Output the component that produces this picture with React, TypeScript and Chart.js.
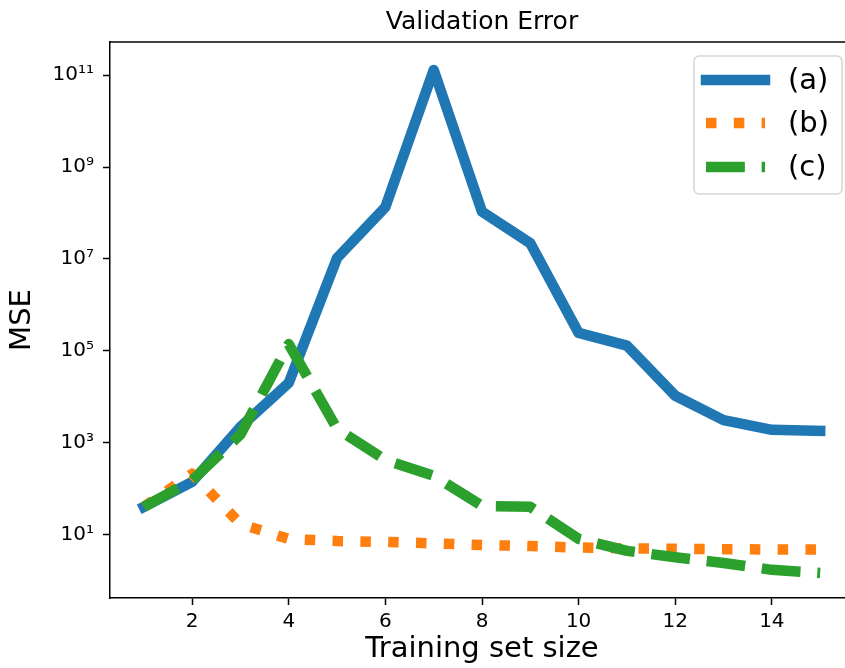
import React, { useEffect, useRef } from "react";
import { Chart, registerables } from "chart.js";

Chart.register(...registerables);

// ---- data ----
const trainingSizes = [1, 2, 3, 4, 5, 6, 7, 8, 9, 10, 11, 12, 13, 14, 15];
const errA = [40, 140, 2200, 20000, 1.05e7, 1.35e8, 1.3e11, 1.07e8, 2.2e7, 2.45e5, 1.3e5, 1.05e4, 3100, 1900, 1800];
const errB = [40, 210, 17, 8.0, 7.2, 6.9, 6.4, 5.9, 5.6, 5.2, 5.0, 4.9, 4.8, 4.7, 4.7];
const errC = [40, 150, 1500, 1.4e5, 2000, 420, 190, 42, 40, 8, 4.4, 3.2, 2.4, 1.7, 1.45];
const seriesLabels = ["(a)", "(b)", "(c)"];
const seriesColors = ["#1f77b4", "#ff7f0e", "#2ca02c"];
const xTickValues = [2, 4, 6, 8, 10, 12, 14];
const yTickValues = [1e1, 1e3, 1e5, 1e7, 1e9, 1e11];
const titleText = "Validation Error";
const xTitle = "Training set size";
const yTitle = "MSE";

const FONT = '"DejaVu Sans", sans-serif';
const LW = 10.5;

const SUP: Record<string, string> = {
  "0": "⁰", "1": "¹", "2": "²", "3": "³", "4": "⁴",
  "5": "⁵", "6": "⁶", "7": "⁷", "8": "⁸", "9": "⁹", "-": "⁻",
};
const powLabel = (v: number) => {
  const e = Math.round(Math.log10(v)).toString();
  return "10" + e.split("").map((c) => SUP[c] || c).join("");
};

const framePlugin = {
  id: "frameAndLegend",
  afterDraw(chart: any) {
    const { ctx, chartArea } = chart;
    ctx.save();
    // top spine
    ctx.strokeStyle = "#000";
    ctx.lineWidth = 1.5;
    ctx.beginPath();
    ctx.moveTo(chartArea.left, chartArea.top);
    ctx.lineTo(chartArea.right, chartArea.top);
    ctx.stroke();

    // legend
    const bx = chartArea.right - 160;
    const by = chartArea.top + 14;
    const bw = 148;
    const bh = 138;
    ctx.beginPath();
    ctx.roundRect(bx, by, bw, bh, 5);
    ctx.fillStyle = "rgba(255,255,255,0.8)";
    ctx.fill();
    ctx.strokeStyle = "#d6d6d6";
    ctx.lineWidth = 1.5;
    ctx.stroke();

    const ds = chart.data.datasets;
    const rowY = [24, 67, 111];
    ds.forEach((d: any, i: number) => {
      const y = by + rowY[i];
      ctx.save();
      ctx.beginPath();
      ctx.rect(bx + 1, by + 1, bw - 2, bh - 2);
      ctx.clip();
      ctx.strokeStyle = d.borderColor;
      ctx.lineWidth = d.borderWidth;
      ctx.lineCap = d.borderCapStyle || "butt";
      ctx.setLineDash(d.borderDash || []);
      ctx.beginPath();
      ctx.moveTo(bx + 12, y);
      ctx.lineTo(bx + 71, y);
      ctx.stroke();
      ctx.restore();
      ctx.fillStyle = "#000";
      ctx.font = `29px ${FONT}`;
      ctx.textAlign = "left";
      ctx.textBaseline = "middle";
      ctx.fillText(d.label, bx + 94, y + 1);
    });
    ctx.restore();
  },
};

export default function App() {
  const ref = useRef<HTMLCanvasElement | null>(null);

  useEffect(() => {
    if (!ref.current) return;
    const mk = (vals: number[]) => trainingSizes.map((x, i) => ({ x, y: vals[i] }));
    const chart = new Chart(ref.current, {
      type: "line",
      data: {
        datasets: [
          {
            label: seriesLabels[0],
            data: mk(errA),
            borderColor: seriesColors[0],
            borderWidth: LW,
            borderCapStyle: "square",
            borderJoinStyle: "round",
            pointRadius: 0,
            fill: false,
            order: 3,
          },
          {
            label: seriesLabels[1],
            data: mk(errB),
            borderColor: seriesColors[1],
            borderWidth: LW,
            borderDash: [LW * 1, LW * 1.65],
            borderCapStyle: "butt",
            borderJoinStyle: "round",
            pointRadius: 0,
            fill: false,
            order: 2,
          },
          {
            label: seriesLabels[2],
            data: mk(errC),
            borderColor: seriesColors[2],
            borderWidth: LW,
            borderDash: [LW * 3.7, LW * 1.6],
            borderCapStyle: "butt",
            borderJoinStyle: "round",
            pointRadius: 0,
            fill: false,
            order: 1,
          },
        ] as any,
      },
      options: {
        responsive: false,
        animation: false,
        devicePixelRatio: 1,
        layout: { padding: { left: 0, right: 16, top: 0, bottom: 0 } },
        plugins: {
          legend: { display: false },
          tooltip: { enabled: false },
          title: {
            display: true,
            text: titleText,
            fullSize: false,
            color: "#000",
            font: { family: FONT, size: 25, weight: "normal", lineHeight: 1.2 },
            padding: { top: 7, bottom: 5 },
          },
        },
        scales: {
          x: {
            type: "linear",
            min: 0.3,
            max: 15.7,
            afterBuildTicks: (s: any) => {
              s.ticks = xTickValues.map((v) => ({ value: v }));
            },
            afterFit: (s: any) => {
              s.height = 70;
            },
            ticks: {
              color: "#000",
              font: { family: FONT, size: 20 },
              padding: 5,
              maxRotation: 0,
              callback: (v: any) => String(v),
            },
            grid: {
              drawOnChartArea: false,
              drawTicks: true,
              tickLength: 7,
              tickWidth: 1.5,
              tickColor: "#000",
            },
            border: { display: true, color: "#000", width: 1.5 },
            title: {
              display: true,
              text: xTitle,
              color: "#000",
              font: { family: FONT, size: 29, lineHeight: 1.2 },
              padding: { top: 0, bottom: 1 },
            },
          },
          y: {
            type: "logarithmic",
            min: Math.pow(10, -0.383),
            max: Math.pow(10, 11.725),
            afterBuildTicks: (s: any) => {
              s.ticks = yTickValues.map((v) => ({ value: v }));
            },
            afterFit: (s: any) => {
              s.width = 110;
            },
            ticks: {
              color: "#000",
              font: { family: FONT, size: 20 },
              padding: 9,
              callback: (v: any) => powLabel(Number(v)),
            },
            grid: {
              drawOnChartArea: false,
              drawTicks: true,
              tickLength: 7,
              tickWidth: 1.5,
              tickColor: "#000",
            },
            border: { display: true, color: "#000", width: 1.5 },
            title: {
              display: true,
              text: yTitle,
              color: "#000",
              font: { family: FONT, size: 29, lineHeight: 1.2 },
              padding: { top: 5, bottom: 0 },
            },
          },
        },
      } as any,
      plugins: [framePlugin],
    });
    return () => chart.destroy();
  }, []);

  return (
    <div
      style={{
        position: "fixed",
        left: 0,
        top: 0,
        width: 845,
        height: 668,
        overflow: "hidden",
        background: "#fff",
      }}
    >
      <canvas ref={ref} width={870} height={668} style={{ display: "block" }} />
    </div>
  );
}
